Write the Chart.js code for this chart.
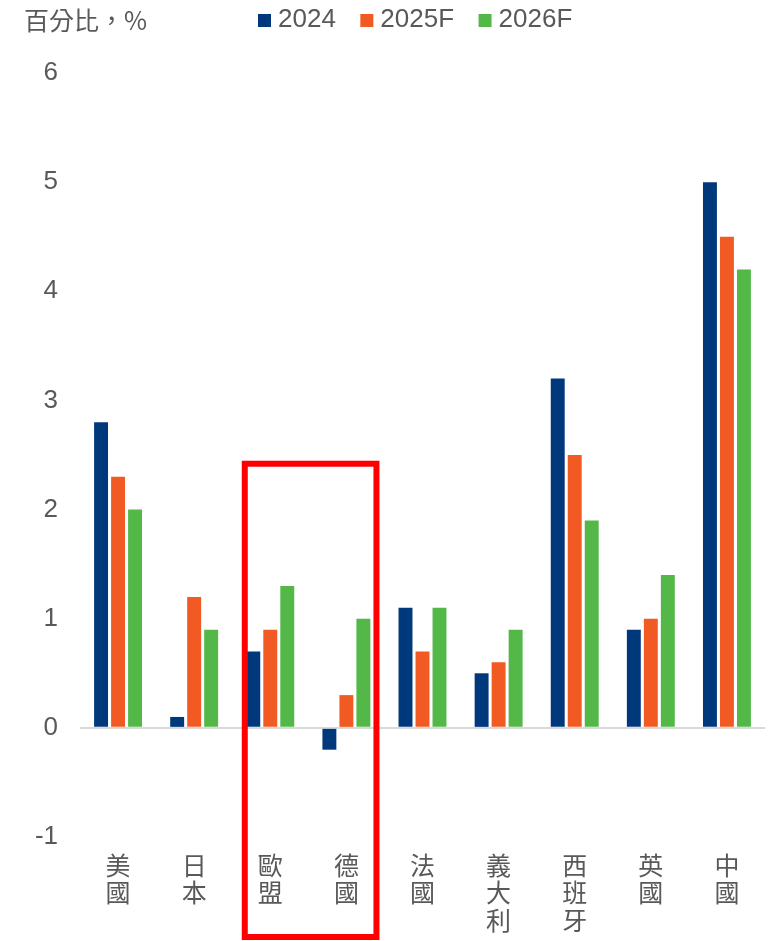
<!DOCTYPE html>
<html lang="zh-Hant-TW">
<head>
<meta charset="utf-8">
<style>
  html, body { margin: 0; padding: 0; background: #fff; }
  #wrap { width: 779px; height: 941px; position: relative; }
</style>
<script src="https://cdn.jsdelivr.net/npm/chart.js@4.4.1/dist/chart.umd.min.js"></script>
</head>
<body>
<div id="wrap"><canvas id="gdpChart" width="779" height="941"></canvas></div>
<script>
// ==================== DATA ====================
var paises = ['美國', '日本', '歐盟', '德國', '法國', '義大利', '西班牙', '英國', '中國'];
var anios = ['2024', '2025F', '2026F'];
var serie2024 = [2.8, 0.1, 0.7, -0.2, 1.1, 0.5, 3.2, 0.9, 5.0];
var serie2025 = [2.3, 1.2, 0.9, 0.3, 0.7, 0.6, 2.5, 1.0, 4.5];
var serie2026 = [2.0, 0.9, 1.3, 1.0, 1.1, 0.9, 1.9, 1.4, 4.2];
var unidad = '百分比，%';
var destacados = ['歐盟', '德國'];
var topeDestacado = 2.42;

var colores = ['#00387C', '#F25A23', '#53B848'];
var grisTexto = '#595959';
var fuente = "'Liberation Sans', Arial, 'Noto Sans CJK TC', sans-serif";
var fuenteCJK = "'Noto Sans CJK TC', 'Liberation Sans', sans-serif";

// ==================== PLUGINS ====================
// texto de unidad arriba a la izquierda
var pluginUnidad = {
  id: 'unidad',
  afterDraw: function (chart) {
    var ctx = chart.ctx;
    ctx.save();
    ctx.font = '25px ' + fuenteCJK;
    ctx.fillStyle = grisTexto;
    ctx.textAlign = 'left';
    ctx.textBaseline = 'middle';
    ctx.fillText(unidad, 24, 20);
    ctx.restore();
  }
};

// leyenda propia (cuadro pegado al texto, como en el original)
var pluginLeyenda = {
  id: 'leyendaPropia',
  afterDraw: function (chart) {
    var ctx = chart.ctx;
    ctx.save();
    ctx.font = '26px ' + fuente;
    ctx.textAlign = 'left';
    ctx.textBaseline = 'middle';
    var x = chart.chartArea.left + 178;
    chart.data.datasets.forEach(function (ds) {
      ctx.fillStyle = ds.backgroundColor;
      ctx.fillRect(x, 14, 13, 13);
      x += 13 + 7;
      ctx.fillStyle = grisTexto;
      ctx.fillText(ds.label, x, 20);
      x += ctx.measureText(ds.label).width + 24.5;
    });
    ctx.restore();
  }
};

// recuadro rojo sobre Europa
var pluginRecuadro = {
  id: 'recuadro',
  afterDatasetsDraw: function (chart) {
    var x = chart.scales.x, y = chart.scales.y;
    var i0 = paises.indexOf(destacados[0]);
    var i1 = paises.indexOf(destacados[1]);
    var ancho = x.getPixelForValue(1) - x.getPixelForValue(0);
    var izq = x.getPixelForValue(i0) - ancho * 0.335;
    var der = x.getPixelForValue(i1) + ancho * 0.395;
    var arriba = y.getPixelForValue(topeDestacado);
    var abajo = chart.height - 4;
    var ctx = chart.ctx;
    ctx.save();
    ctx.strokeStyle = '#FF0000';
    ctx.lineWidth = 6;
    ctx.strokeRect(izq, arriba, der - izq, abajo - arriba);
    ctx.restore();
  }
};

// ==================== CHART ====================
function crearDataset(label, data, color) {
  return {
    label: label,
    data: data,
    backgroundColor: color,
    borderWidth: 0,
    categoryPercentage: 0.67,
    barPercentage: 0.82
  };
}

var ctx = document.getElementById('gdpChart').getContext('2d');
var gdpChart = new Chart(ctx, {
  type: 'bar',
  data: {
    labels: paises,
    datasets: [
      crearDataset(anios[0], serie2024, colores[0]),
      crearDataset(anios[1], serie2025, colores[1]),
      crearDataset(anios[2], serie2026, colores[2])
    ]
  },
  options: {
    responsive: false,
    animation: false,
    layout: { padding: { left: 0, right: 14, top: 73, bottom: 0 } },
    plugins: {
      legend: { display: false },
      tooltip: { enabled: false }
    },
    scales: {
      x: {
        afterFit: function (scale) { scale.height = 941 - 837; },
        grid: { display: false, drawTicks: false },
        border: { display: false },
        ticks: {
          color: grisTexto,
          padding: 15,
          maxRotation: 0,
          autoSkip: false,
          font: { family: fuenteCJK, size: 25, lineHeight: 1.09 },
          callback: function (value) {
            return paises[value].split('');
          }
        }
      },
      y: {
        min: -1,
        max: 6,
        afterFit: function (scale) { scale.width = 80; },
        border: { display: false },
        grid: {
          drawTicks: false,
          lineWidth: 2,
          color: function (c) { return c.tick && c.tick.value === 0 ? '#D9D9D9' : 'rgba(0,0,0,0)'; }
        },
        ticks: {
          stepSize: 1,
          padding: 22,
          color: grisTexto,
          font: { family: fuente, size: 26 }
        }
      }
    }
  },
  plugins: [pluginUnidad, pluginLeyenda, pluginRecuadro]
});
</script>
</body>
</html>
